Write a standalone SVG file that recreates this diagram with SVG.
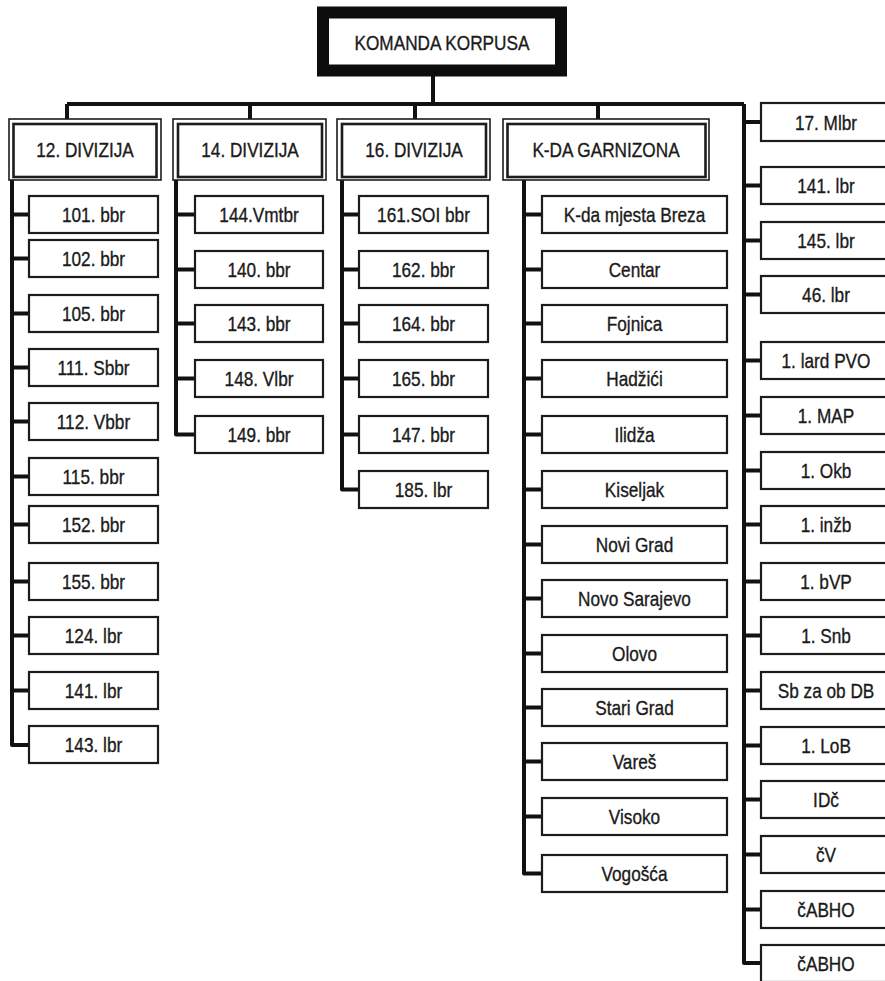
<svg xmlns="http://www.w3.org/2000/svg" width="885" height="981" viewBox="0 0 885 981">
<style>
.bg{fill:#fff}
.box{fill:#fff;stroke:#1c1c1c;stroke-width:2.2}
.dout{fill:#fff;stroke:#1c1c1c;stroke-width:1.6}
.din{fill:#fff;stroke:#1c1c1c;stroke-width:2.6}
.ln{stroke:#111;stroke-width:4;fill:none;stroke-linejoin:round}
.t{font-family:"Liberation Sans",Arial,sans-serif;font-size:21px;fill:#1a1a1a;stroke:#1a1a1a;stroke-width:0.35;text-anchor:middle}
</style>
<rect class="bg" x="0" y="0" width="885" height="981"/>
<g id="connectors">
<path class="ln" d="M433 70 V104 M67 104 H744 M67 104 V119 M250 104 V119 M415 104 V119 M598 104 V119"/>
<path class="ln" d="M12 178 V745 H29 M12 214.5 H29 M12 258.5 H29 M12 313.5 H29 M12 367.5 H29 M12 421.5 H29 M12 476.5 H29 M12 524.5 H29 M12 581.5 H29 M12 635.5 H29 M12 690.5 H29"/>
<path class="ln" d="M176 178 V434.5 H195 M176 214.5 H195 M176 269.5 H195 M176 323.5 H195 M176 378.5 H195"/>
<path class="ln" d="M342 178 V489.5 H359 M342 214.5 H359 M342 269.5 H359 M342 323.5 H359 M342 378.5 H359 M342 434.5 H359"/>
<path class="ln" d="M524 178 V873.5 H542 M524 214.5 H542 M524 269.5 H542 M524 323.5 H542 M524 378.5 H542 M524 434.5 H542 M524 489.5 H542 M524 544.5 H542 M524 598.5 H542 M524 653.5 H542 M524 707.5 H542 M524 761.5 H542 M524 816.5 H542"/>
<path class="ln" d="M744 104 V963 H761 M744 122 H761 M744 185.5 H761 M744 240.5 H761 M744 294.5 H761 M744 360.5 H761 M744 415.5 H761 M744 470.5 H761 M744 524.5 H761 M744 581.5 H761 M744 635.5 H761 M744 690.5 H761 M744 745.5 H761 M744 799.5 H761 M744 854.5 H761 M744 909.5 H761"/>
</g>
<g id="komanda-korpusa">
<rect x="323" y="12.5" width="238" height="58" fill="#fff" stroke="#0d0d0d" stroke-width="12"/>
<text class="t" transform="translate(442 50) scale(0.82 1)">KOMANDA KORPUSA</text>
</g>
<g id="div12">
<rect class="dout" x="9" y="119" width="152" height="61"/>
<rect class="din" x="13.5" y="124" width="143" height="53"/>
<text class="t" transform="translate(85 157) scale(0.82 1)">12. DIVIZIJA</text>
</g>
<g id="div14">
<rect class="dout" x="173" y="119" width="153" height="61"/>
<rect class="din" x="178" y="124" width="144" height="53"/>
<text class="t" transform="translate(250 157) scale(0.82 1)">14. DIVIZIJA</text>
</g>
<g id="div16">
<rect class="dout" x="337" y="119" width="153" height="61"/>
<rect class="din" x="342" y="124" width="144" height="53"/>
<text class="t" transform="translate(414 157) scale(0.82 1)">16. DIVIZIJA</text>
</g>
<g id="kda-garnizona">
<rect class="dout" x="503" y="119" width="206" height="61"/>
<rect class="din" x="507.5" y="124" width="198" height="53"/>
<text class="t" transform="translate(606 157) scale(0.82 1)">K-DA GARNIZONA</text>
</g>
<g id="c101"><rect class="box" x="29" y="196" width="129" height="37"/><text class="t" transform="translate(93.5 222) scale(0.82 1)">101. bbr</text></g>
<g id="c102"><rect class="box" x="29" y="240" width="129" height="37"/><text class="t" transform="translate(93.5 266) scale(0.82 1)">102. bbr</text></g>
<g id="c105"><rect class="box" x="29" y="295" width="129" height="37"/><text class="t" transform="translate(93.5 321) scale(0.82 1)">105. bbr</text></g>
<g id="c111"><rect class="box" x="29" y="349" width="129" height="37"/><text class="t" transform="translate(93.5 375) scale(0.82 1)">111. Sbbr</text></g>
<g id="c112"><rect class="box" x="29" y="403" width="129" height="37"/><text class="t" transform="translate(93.5 429) scale(0.82 1)">112. Vbbr</text></g>
<g id="c115"><rect class="box" x="29" y="458" width="129" height="37"/><text class="t" transform="translate(93.5 484) scale(0.82 1)">115. bbr</text></g>
<g id="c152"><rect class="box" x="29" y="506" width="129" height="37"/><text class="t" transform="translate(93.5 532) scale(0.82 1)">152. bbr</text></g>
<g id="c155"><rect class="box" x="29" y="563" width="129" height="37"/><text class="t" transform="translate(93.5 589) scale(0.82 1)">155. bbr</text></g>
<g id="c124"><rect class="box" x="29" y="617" width="129" height="37"/><text class="t" transform="translate(93.5 643) scale(0.82 1)">124. lbr</text></g>
<g id="c141a"><rect class="box" x="29" y="672" width="129" height="37"/><text class="t" transform="translate(93.5 698) scale(0.82 1)">141. lbr</text></g>
<g id="c143a"><rect class="box" x="29" y="726" width="129" height="37"/><text class="t" transform="translate(93.5 752) scale(0.82 1)">143. lbr</text></g>
<g id="c144"><rect class="box" x="195" y="196" width="128" height="37"/><text class="t" transform="translate(259 222) scale(0.82 1)">144.Vmtbr</text></g>
<g id="c140"><rect class="box" x="195" y="251" width="128" height="37"/><text class="t" transform="translate(259 277) scale(0.82 1)">140. bbr</text></g>
<g id="c143b"><rect class="box" x="195" y="305" width="128" height="37"/><text class="t" transform="translate(259 331) scale(0.82 1)">143. bbr</text></g>
<g id="c148"><rect class="box" x="195" y="360" width="128" height="37"/><text class="t" transform="translate(259 386) scale(0.82 1)">148. Vlbr</text></g>
<g id="c149"><rect class="box" x="195" y="416" width="128" height="37"/><text class="t" transform="translate(259 442) scale(0.82 1)">149. bbr</text></g>
<g id="c161"><rect class="box" x="359" y="196" width="129" height="37"/><text class="t" transform="translate(423.5 222) scale(0.82 1)">161.SOI bbr</text></g>
<g id="c162"><rect class="box" x="359" y="251" width="129" height="37"/><text class="t" transform="translate(423.5 277) scale(0.82 1)">162. bbr</text></g>
<g id="c164"><rect class="box" x="359" y="305" width="129" height="37"/><text class="t" transform="translate(423.5 331) scale(0.82 1)">164. bbr</text></g>
<g id="c165"><rect class="box" x="359" y="360" width="129" height="37"/><text class="t" transform="translate(423.5 386) scale(0.82 1)">165. bbr</text></g>
<g id="c147"><rect class="box" x="359" y="416" width="129" height="37"/><text class="t" transform="translate(423.5 442) scale(0.82 1)">147. bbr</text></g>
<g id="c185"><rect class="box" x="359" y="471" width="129" height="37"/><text class="t" transform="translate(423.5 497) scale(0.82 1)">185. lbr</text></g>
<g id="g-breza"><rect class="box" x="542" y="196" width="185" height="37"/><text class="t" transform="translate(634.5 222) scale(0.82 1)">K-da mjesta Breza</text></g>
<g id="g-centar"><rect class="box" x="542" y="251" width="185" height="37"/><text class="t" transform="translate(634.5 277) scale(0.82 1)">Centar</text></g>
<g id="g-fojnica"><rect class="box" x="542" y="305" width="185" height="37"/><text class="t" transform="translate(634.5 331) scale(0.82 1)">Fojnica</text></g>
<g id="g-hadzici"><rect class="box" x="542" y="360" width="185" height="37"/><text class="t" transform="translate(634.5 386) scale(0.82 1)">Hadžići</text></g>
<g id="g-ilidza"><rect class="box" x="542" y="416" width="185" height="37"/><text class="t" transform="translate(634.5 442) scale(0.82 1)">Ilidža</text></g>
<g id="g-kiseljak"><rect class="box" x="542" y="471" width="185" height="37"/><text class="t" transform="translate(634.5 497) scale(0.82 1)">Kiseljak</text></g>
<g id="g-novigrad"><rect class="box" x="542" y="526" width="185" height="37"/><text class="t" transform="translate(634.5 552) scale(0.82 1)">Novi Grad</text></g>
<g id="g-novosarajevo"><rect class="box" x="542" y="580" width="185" height="37"/><text class="t" transform="translate(634.5 606) scale(0.82 1)">Novo Sarajevo</text></g>
<g id="g-olovo"><rect class="box" x="542" y="635" width="185" height="37"/><text class="t" transform="translate(634.5 661) scale(0.82 1)">Olovo</text></g>
<g id="g-starigrad"><rect class="box" x="542" y="689" width="185" height="37"/><text class="t" transform="translate(634.5 715) scale(0.82 1)">Stari Grad</text></g>
<g id="g-vares"><rect class="box" x="542" y="743" width="185" height="37"/><text class="t" transform="translate(634.5 769) scale(0.82 1)">Vareš</text></g>
<g id="g-visoko"><rect class="box" x="542" y="798" width="185" height="37"/><text class="t" transform="translate(634.5 824) scale(0.82 1)">Visoko</text></g>
<g id="g-vogosca"><rect class="box" x="542" y="855" width="185" height="37"/><text class="t" transform="translate(634.5 881) scale(0.82 1)">Vogošća</text></g>
<g id="r17"><rect class="box" x="761" y="103" width="130" height="38"/><text class="t" transform="translate(826 129.5) scale(0.82 1)">17. Mlbr</text></g>
<g id="r141"><rect class="box" x="761" y="167" width="130" height="37"/><text class="t" transform="translate(826 193) scale(0.82 1)">141. lbr</text></g>
<g id="r145"><rect class="box" x="761" y="222" width="130" height="37"/><text class="t" transform="translate(826 248) scale(0.82 1)">145. lbr</text></g>
<g id="r46"><rect class="box" x="761" y="276" width="130" height="37"/><text class="t" transform="translate(826 302) scale(0.82 1)">46. lbr</text></g>
<g id="r-pvo"><rect class="box" x="761" y="342" width="130" height="37"/><text class="t" transform="translate(826 368) scale(0.82 1)">1. lard PVO</text></g>
<g id="r-map"><rect class="box" x="761" y="397" width="130" height="37"/><text class="t" transform="translate(826 423) scale(0.82 1)">1. MAP</text></g>
<g id="r-okb"><rect class="box" x="761" y="452" width="130" height="37"/><text class="t" transform="translate(826 478) scale(0.82 1)">1. Okb</text></g>
<g id="r-inzb"><rect class="box" x="761" y="506" width="130" height="37"/><text class="t" transform="translate(826 532) scale(0.82 1)">1. inžb</text></g>
<g id="r-bvp"><rect class="box" x="761" y="563" width="130" height="37"/><text class="t" transform="translate(826 589) scale(0.82 1)">1. bVP</text></g>
<g id="r-snb"><rect class="box" x="761" y="617" width="130" height="37"/><text class="t" transform="translate(826 643) scale(0.82 1)">1. Snb</text></g>
<g id="r-sbdb"><rect class="box" x="761" y="672" width="130" height="37"/><text class="t" transform="translate(826 698) scale(0.82 1)">Sb za ob DB</text></g>
<g id="r-lob"><rect class="box" x="761" y="727" width="130" height="37"/><text class="t" transform="translate(826 753) scale(0.82 1)">1. LoB</text></g>
<g id="r-idc"><rect class="box" x="761" y="781" width="130" height="37"/><text class="t" transform="translate(826 807) scale(0.82 1)">IDč</text></g>
<g id="r-cv"><rect class="box" x="761" y="836" width="130" height="37"/><text class="t" transform="translate(826 862) scale(0.82 1)">čV</text></g>
<g id="r-cabho1"><rect class="box" x="761" y="891" width="130" height="37"/><text class="t" transform="translate(826 917) scale(0.82 1)">čABHO</text></g>
<g id="r-cabho2"><rect class="box" x="761" y="945" width="130" height="37"/><text class="t" transform="translate(826 971) scale(0.82 1)">čABHO</text></g>
</svg>
